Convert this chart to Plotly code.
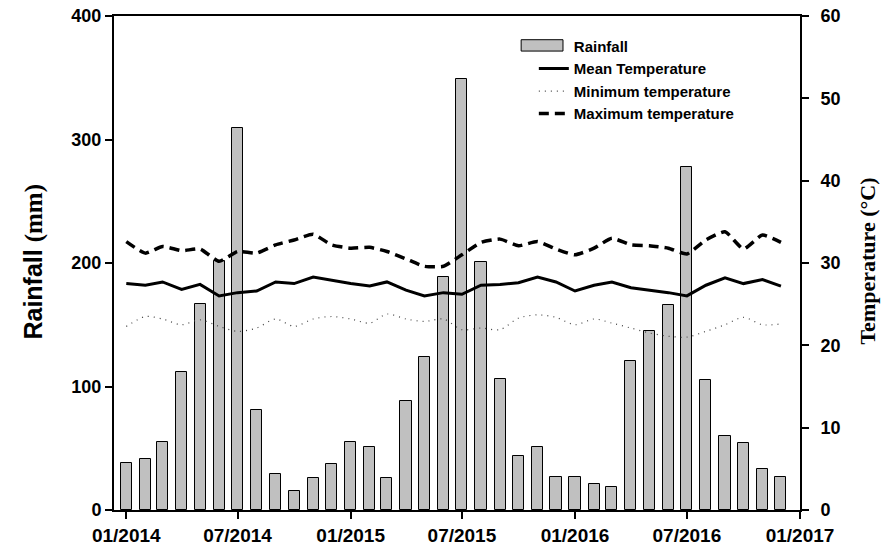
import plotly.graph_objects as go

months = ["2014-01-01", "2014-02-01", "2014-03-01", "2014-04-01", "2014-05-01", "2014-06-01",
          "2014-07-01", "2014-08-01", "2014-09-01", "2014-10-01", "2014-11-01", "2014-12-01",
          "2015-01-01", "2015-02-01", "2015-03-01", "2015-04-01", "2015-05-01", "2015-06-01",
          "2015-07-01", "2015-08-01", "2015-09-01", "2015-10-01", "2015-11-01", "2015-12-01",
          "2016-01-01", "2016-02-01", "2016-03-01", "2016-04-01", "2016-05-01", "2016-06-01",
          "2016-07-01", "2016-08-01", "2016-09-01", "2016-10-01", "2016-11-01", "2016-12-01"]

rainfall = [38, 41, 55, 112, 167, 202, 309, 81, 29, 15, 26, 37,
            55, 51, 26, 88, 124, 189, 349, 201, 106, 44, 51, 27,
            27, 21, 19, 121, 145, 166, 278, 105, 60, 54, 33, 27]

mean_temp = [27.5, 27.3, 27.7, 26.8, 27.4, 26.0, 26.4, 26.6, 27.7, 27.5, 28.3, 27.9,
             27.5, 27.2, 27.7, 26.7, 26.0, 26.4, 26.2, 27.3, 27.4, 27.6, 28.3, 27.7,
             26.6, 27.3, 27.7, 27.0, 26.7, 26.4, 26.0, 27.3, 28.2, 27.5, 28.0, 27.2]

min_temp = [22.3, 23.5, 23.2, 22.5, 23.1, 22.3, 21.7, 22.1, 23.2, 22.3, 23.2, 23.5,
            23.2, 22.7, 23.8, 23.2, 22.9, 23.2, 21.9, 22.1, 21.9, 23.3, 23.7, 23.4,
            22.5, 23.2, 22.7, 22.1, 21.5, 21.1, 21.0, 21.7, 22.5, 23.4, 22.5, 22.6]

max_temp = [32.6, 31.2, 32.0, 31.5, 31.7, 30.2, 31.4, 31.2, 32.2, 32.8, 33.5, 32.2,
            31.8, 31.9, 31.4, 30.5, 29.6, 29.6, 31.0, 32.5, 32.9, 32.1, 32.6, 31.7,
            31.0, 31.8, 33.0, 32.2, 32.1, 31.8, 31.1, 32.8, 33.8, 31.7, 33.4, 32.5]

tick_dates = ["2014-01-01", "2014-07-01", "2015-01-01", "2015-07-01",
              "2016-01-01", "2016-07-01", "2017-01-01"]
tick_labels = ["01/2014", "07/2014", "01/2015", "07/2015", "01/2016", "07/2016", "01/2017"]

SANS = "Arial, 'Liberation Sans', sans-serif"
SERIF = "'Times New Roman', 'Liberation Serif', serif"
DAY_MS = 86400000
BAR_FILL = "#c0c0c0"

fig = go.Figure()
fig.add_trace(go.Bar(
    x=months, y=rainfall, name="Rainfall", showlegend=False,
    width=[18 * DAY_MS] * len(months),
    marker=dict(color=BAR_FILL, line=dict(color="black", width=1)),
    yaxis="y",
))
# legend entry for the bars (its wide rectangle symbol is drawn as a shape below)
fig.add_trace(go.Scatter(
    x=[None], y=[None], name="Rainfall", mode="lines",
    line=dict(color="rgba(0,0,0,0)", width=1), yaxis="y",
))
fig.add_trace(go.Scatter(
    x=months, y=mean_temp, name="Mean Temperature", mode="lines",
    line=dict(color="black", width=3), yaxis="y2",
))
fig.add_trace(go.Scatter(
    x=months, y=min_temp, name="Minimum temperature", mode="lines",
    line=dict(color="#444444", width=1.2, dash="1px,5px", shape="spline", smoothing=0.8), yaxis="y2",
))
fig.add_trace(go.Scatter(
    x=months, y=max_temp, name="Maximum temperature", mode="lines",
    line=dict(color="black", width=3.5, dash="10px,6px", shape="spline", smoothing=0.5), yaxis="y2",
))

xtickfont = dict(family=SANS, size=19, color="black", weight="bold")
ytickfont = dict(family=SANS, size=18, color="black", weight="bold")

fig.update_layout(
    width=888, height=554,
    margin=dict(l=114, r=88, t=16, b=44, autoexpand=False),
    plot_bgcolor="white", paper_bgcolor="white",
    bargap=0,
    xaxis=dict(
        type="date", range=["2013-12-12", "2017-01-01"],
        tickvals=tick_dates, ticktext=tick_labels,
        ticks="outside", ticklen=7, tickwidth=2, tickcolor="black",
        showline=True, linewidth=2, linecolor="black", mirror=True,
        showgrid=False, zeroline=False, tickfont=xtickfont, automargin=False,
    ),
    yaxis=dict(
        range=[0, 400], tickvals=[0, 100, 200, 300, 400],
        ticks="outside", ticklen=7, tickwidth=2, tickcolor="black",
        showline=True, linewidth=2, linecolor="black",
        showgrid=False, zeroline=False, tickfont=ytickfont, automargin=False,
    ),
    yaxis2=dict(
        range=[0, 60], tickvals=[0, 10, 20, 30, 40, 50, 60],
        overlaying="y", side="right",
        ticks="outside", ticklen=7, tickwidth=2, tickcolor="black",
        showline=True, linewidth=2, linecolor="black",
        showgrid=False, zeroline=False, tickfont=ytickfont, automargin=False,
        ticklabelstandoff=8,
    ),
    legend=dict(
        x=0.612, y=0.972, xanchor="left", yanchor="top",
        bgcolor="rgba(0,0,0,0)", font=dict(family=SANS, size=15, color="black", weight="bold"),
        traceorder="normal",
    ),
    showlegend=True,
    shapes=[
        dict(type="rect", xref="paper", yref="paper",
             x0=0.5935, x1=0.6545, y0=0.929, y1=0.952,
             fillcolor=BAR_FILL, line=dict(color="black", width=1)),
    ],
    annotations=[
        dict(text="Rainfall <span style=\"font-family:'Liberation Serif', 'Times New Roman', serif\">(mm)</span>",
             xref="paper", yref="paper", x=-0.118, y=0.503, textangle=-90,
             xanchor="center", yanchor="middle", showarrow=False,
             font=dict(family=SANS, size=25, color="black", weight="bold")),
        dict(text="Temperature (°C)",
             xref="paper", yref="paper", x=1.0977, y=0.503, textangle=-90,
             xanchor="center", yanchor="middle", showarrow=False,
             font=dict(family=SERIF, size=22, color="black", weight="bold")),
    ],
)

fig.write_html("out.html", config={"displayModeBar": False},
               post_script="document.body.style.margin='0';")
